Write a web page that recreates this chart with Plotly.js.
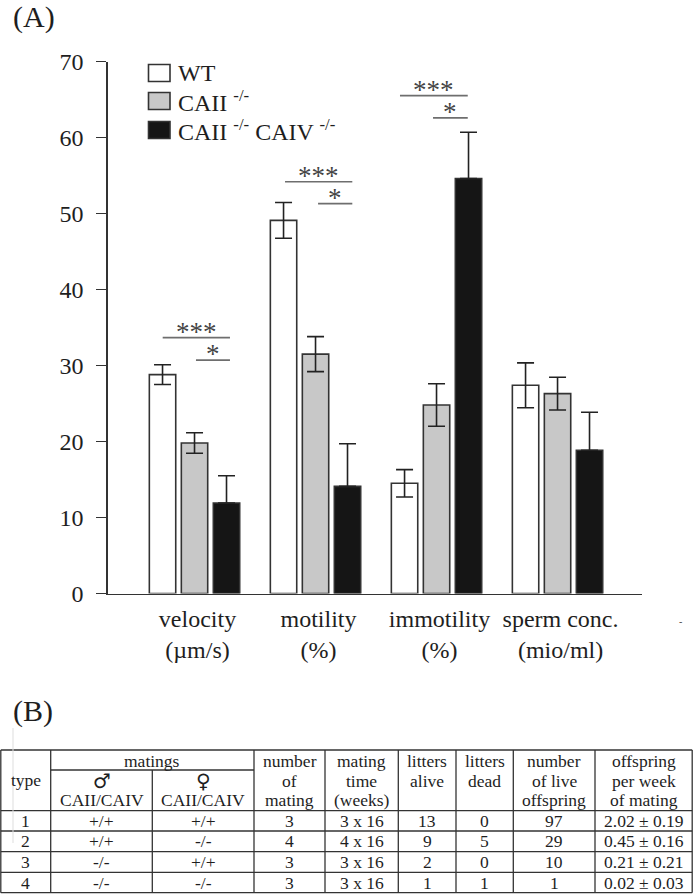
<!DOCTYPE html>
<html>
<head>
<meta charset="utf-8">
<script src="https://cdn.plot.ly/plotly-3.0.1.min.js"></script>
<style>html,body{margin:0;padding:0;background:#fff;}#chart{width:693px;height:894px;}</style>
</head>
<body>
<div id="chart"></div>
<script>
// ---------- Panel A data ----------
const categories = ['velocity<br>(µm/s)', 'motility<br>(%)', 'immotility<br>(%)', 'sperm conc.<br>(mio/ml)'];
const groupNames = ['WT', 'CAII <sup>-/-</sup>', 'CAII <sup>-/-</sup> CAIV <sup>-/-</sup>'];
const wtMean   = [28.8, 49.1, 14.5, 27.4];
const wtErr    = [1.3, 2.35, 1.8, 2.95];
const caiiMean = [19.8, 31.5, 24.8, 26.3];
const caiiErr  = [1.35, 2.3, 2.8, 2.15];
const dkoMean  = [11.9, 14.1, 54.6, 18.85];
const dkoErr   = [3.6, 5.6, 6.1, 5.0];
const yTicks = [0, 10, 20, 30, 40, 50, 60, 70];

// significance brackets (category index, start/end offset in category units, level)
const sigGroup = [0, 0, 1, 1, 2, 2];
const sigLabel = ['***', '*', '***', '*', '***', '*'];
const sigFrom  = [-0.263, 0.012, -0.252, 0.021, -0.302, -0.029];
const sigTo    = [0.293, 0.293, 0.304, 0.304, 0.258, 0.258];
const sigY     = [33.66, 30.72, 54.18, 51.29, 65.5, 62.57];

// ---------- Panel B data ----------
const tableHeaderLines = [
  ['type'], ['♂', 'CAII/CAIV'], ['♀', 'CAII/CAIV'], ['number', 'of', 'mating'],
  ['mating', 'time', '(weeks)'], ['litters', 'alive'], ['litters', 'dead'],
  ['number', 'of live', 'offspring'], ['offspring', 'per week', 'of mating']
];
const matingsHeader = 'matings';
const typeCol          = ['1', '2', '3', '4'];
const maleGenotype     = ['+/+', '+/+', '-/-', '-/-'];
const femaleGenotype   = ['+/+', '-/-', '+/+', '-/-'];
const numMatings       = ['3', '4', '3', '3'];
const matingTime       = ['3 x 16', '4 x 16', '3 x 16', '3 x 16'];
const littersAlive     = ['13', '9', '2', '1'];
const littersDead      = ['0', '5', '0', '1'];
const liveOffspring    = ['97', '29', '10', '1'];
const offspringPerWeek = ['2.02 ± 0.19', '0.45 ± 0.16', '0.21 ± 0.21', '0.02 ± 0.03'];

// ---------- layout helpers ----------
const W = 693, H = 894;
const px = x => x / W;
const py = y => 1 - y / H;
const FONT = 'Liberation Serif, Times New Roman, DejaVu Serif, serif';
const INK = '#1e1e1e';
const xIdx = categories.map((c, i) => i);

function barTrace(name, mean, err, fill, upperOnly) {
  const ey = {type: 'data', array: err, visible: true, color: '#222', thickness: 1.6, width: 8.5};
  if (upperOnly) { ey.symmetric = false; ey.arrayminus = err.map(() => 0); }
  return {
    type: 'bar', name: name, x: xIdx, y: mean,
    marker: {color: fill, line: {color: '#333', width: 1.6}},
    error_y: ey, showlegend: false, hoverinfo: 'skip'
  };
}
const colors = ['#ffffff', '#c8c8c8', '#151515'];
const data = [
  barTrace(groupNames[0], wtMean, wtErr, colors[0], false),
  barTrace(groupNames[1], caiiMean, caiiErr, colors[1], false),
  barTrace(groupNames[2], dkoMean, dkoErr, colors[2], true)
];

const shapes = [];
const annotations = [];

// significance lines & stars
sigGroup.forEach((g, i) => {
  shapes.push({type: 'line', xref: 'x', yref: 'y', x0: g + sigFrom[i], x1: g + sigTo[i],
    y0: sigY[i], y1: sigY[i], line: {color: '#6e6e6e', width: 1.7}});
  annotations.push({xref: 'x', yref: 'y', x: g + (sigFrom[i] + sigTo[i]) / 2, y: sigY[i],
    text: sigLabel[i], showarrow: false, xanchor: 'center', yanchor: 'bottom', yshift: 0,
    height: 20, valign: 'top', borderpad: 0,
    font: {family: FONT, size: 27, color: '#444'}});
});

// legend (manual)
const legY = [73, 101, 130];
groupNames.forEach((n, i) => {
  shapes.push({type: 'rect', xref: 'paper', yref: 'paper', x0: px(148.5), x1: px(170),
    y0: py(legY[i] - 8.5), y1: py(legY[i] + 8.5), fillcolor: colors[i],
    line: {color: '#333', width: 1.6}});
  annotations.push({xref: 'paper', yref: 'paper', x: px(176), y: py(legY[i]), text: n,
    showarrow: false, xanchor: 'left', yanchor: 'middle',
    font: {family: FONT, size: 24, color: INK}});
});

// panel labels
annotations.push({xref: 'paper', yref: 'paper', x: px(11), y: py(17), text: '(A)', showarrow: false,
  xanchor: 'left', yanchor: 'middle', font: {family: FONT, size: 30, color: INK}});
annotations.push({xref: 'paper', yref: 'paper', x: px(11), y: py(711), text: '(B)', showarrow: false,
  xanchor: 'left', yanchor: 'middle', font: {family: FONT, size: 30, color: INK}});
// stray mark at right of axis labels
annotations.push({xref: 'paper', yref: 'paper', x: px(680), y: py(621), text: '-', showarrow: false,
  xanchor: 'center', yanchor: 'middle', font: {family: FONT, size: 10, color: '#444'}});

// ---------- table ----------
const colX = [0.8, 50.7, 152.3, 254, 325, 398.3, 456, 513.3, 595, 692.2];
const rowY = [750, 810.7, 831, 851.7, 872.3, 892.7];
const midY = 770;
const TL = {color: '#333', width: 1.3};
function hline(x0, x1, y) { shapes.push({type: 'line', xref: 'paper', yref: 'paper', x0: px(x0), x1: px(x1), y0: py(y), y1: py(y), line: TL}); }
function vline(x, y0, y1) { shapes.push({type: 'line', xref: 'paper', yref: 'paper', x0: px(x), x1: px(x), y0: py(y0), y1: py(y1), line: TL}); }
rowY.forEach(y => hline(colX[0], colX[colX.length - 1], y));
hline(colX[1], colX[3], midY);
colX.forEach((x, i) => {
  if (i === 2) vline(x, midY, rowY[rowY.length - 1]);
  else vline(x, rowY[0], rowY[rowY.length - 1]);
});
// faint scan artifact line
shapes.push({type: 'line', xref: 'paper', yref: 'paper', x0: px(13), x1: px(13), y0: py(728), y1: py(843),
  line: {color: '#dddddd', width: 1}});

function cellText(x, y, t, size, fam) {
  annotations.push({xref: 'paper', yref: 'paper', x: px(x), y: py(y), text: t, showarrow: false,
    xanchor: 'center', yanchor: 'middle', font: {family: fam || FONT, size: size || 17.5, color: INK}});
}
const colCenter = i => (colX[i] + colX[i + 1]) / 2;
cellText((colX[1] + colX[3]) / 2, 761, matingsHeader);
const headLineY3 = [761, 780.5, 800];
const subHeadY = [780.5, 800];
tableHeaderLines.forEach((lines, c) => {
  if (c === 0) { cellText(colCenter(0), 780, lines[0]); return; }
  if (c === 1 || c === 2) {
    cellText(colCenter(c), subHeadY[0], lines[0], 20, 'DejaVu Sans, sans-serif');
    cellText(colCenter(c), subHeadY[1], lines[1]);
    return;
  }
  lines.forEach((t, k) => cellText(colCenter(c), headLineY3[k], t));
});
const tableCols = [typeCol, maleGenotype, femaleGenotype, numMatings, matingTime, littersAlive, littersDead, liveOffspring, offspringPerWeek];
tableCols.forEach((col, c) => {
  col.forEach((t, r) => cellText(colCenter(c), (rowY[r + 1] + rowY[r + 2]) / 2, t));
});

const layout = {
  width: W, height: H,
  margin: {l: 0, r: 0, t: 0, b: 0},
  paper_bgcolor: '#fff', plot_bgcolor: '#fff',
  barmode: 'group', bargap: 0.207, bargroupgap: 0.175,
  showlegend: false,
  font: {family: FONT, color: INK},
  xaxis: {
    domain: [px(108), px(642)], range: [-0.715, 3.698],
    tickvals: xIdx, ticktext: categories, ticks: '', showgrid: false, zeroline: false,
    showline: true, linecolor: '#333', linewidth: 1.6, automargin: false,
    tickfont: {family: FONT, size: 24, color: INK}, ticklabelshift: 3, ticklabelstandoff: 3
  },
  yaxis: {
    domain: [py(593.5), py(61.5)], range: [0, 70],
    tickvals: yTicks, ticks: 'outside', ticklen: 10, tickwidth: 1.6, tickcolor: '#333',
    showgrid: false, zeroline: false, showline: true, linecolor: '#333', linewidth: 1.6,
    automargin: false, tickfont: {family: FONT, size: 24, color: INK}, ticklabelstandoff: 8
  },
  shapes: shapes,
  annotations: annotations
};

Plotly.newPlot('chart', data, layout, {staticPlot: true, displayModeBar: false});
</script>
</body>
</html>
